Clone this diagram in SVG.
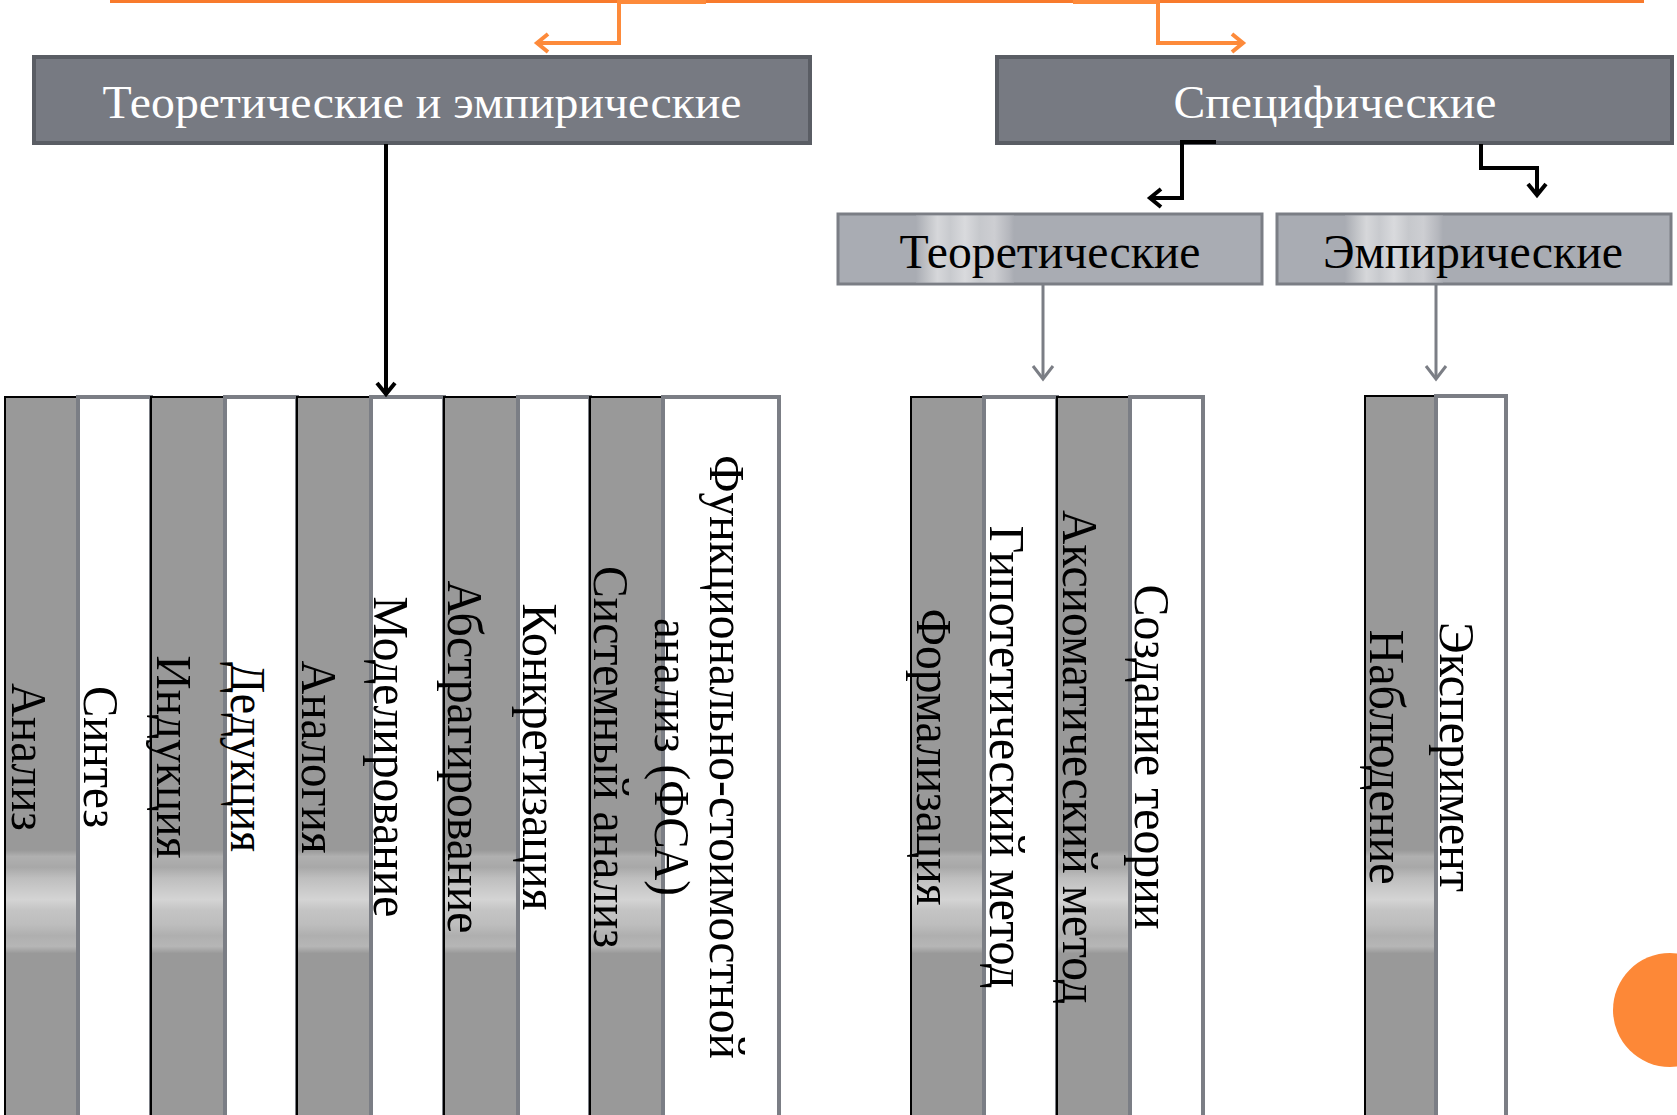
<svg xmlns="http://www.w3.org/2000/svg" width="1677" height="1115" viewBox="0 0 1677 1115">
<style>
.hdr{fill:#777A82;stroke:#5A5D64;stroke-width:4}
.hdrtxt{font-family:"Liberation Serif","Times New Roman",serif;font-size:46px;fill:#FFFFFF;text-anchor:middle}
.sub{fill:#A9ACB3;stroke:#7B7E85;stroke-width:3}
.subtxt{font-family:"Liberation Serif","Times New Roman",serif;font-size:48px;fill:#000000;text-anchor:middle}
.gcol{fill:url(#colGrad);stroke:#000000;stroke-width:2}
.wcol{fill:#FFFFFF;stroke:#7B7E85;stroke-width:4}
.ctxt{font-family:"Liberation Serif","Times New Roman",serif;font-size:50px;fill:#000000;text-anchor:middle}
.orng{fill:none;stroke:#FD8A3A;stroke-width:4}
.blk{fill:none;stroke:#000000;stroke-width:4}
.gry{fill:none;stroke:#7B7E85;stroke-width:3}
</style>
<defs>
<linearGradient id="colGrad" gradientUnits="userSpaceOnUse" x1="0" y1="397" x2="0" y2="1115">
<stop offset="0" stop-color="#999999"/>
<stop offset="0.631" stop-color="#999999"/>
<stop offset="0.64" stop-color="#b0b0b0"/>
<stop offset="0.655" stop-color="#a8a8a8"/>
<stop offset="0.67" stop-color="#bebebe"/>
<stop offset="0.69" stop-color="#cdcdcd"/>
<stop offset="0.70" stop-color="#d4d4d4"/>
<stop offset="0.715" stop-color="#c4c4c4"/>
<stop offset="0.735" stop-color="#bdbdbd"/>
<stop offset="0.75" stop-color="#afafaf"/>
<stop offset="0.765" stop-color="#b6b6b6"/>
<stop offset="0.775" stop-color="#999999"/>
<stop offset="1" stop-color="#999999"/>
</linearGradient>
<linearGradient id="sheen1" gradientUnits="userSpaceOnUse" x1="916" y1="0" x2="1014" y2="0">
<stop offset="0" stop-color="#A9ACB3"/>
<stop offset="0.12" stop-color="#c2c4c8"/>
<stop offset="0.22" stop-color="#d6d7da"/>
<stop offset="0.35" stop-color="#c8cace"/>
<stop offset="0.5" stop-color="#d9dadd"/>
<stop offset="0.65" stop-color="#c6c8cc"/>
<stop offset="0.8" stop-color="#cdced2"/>
<stop offset="0.95" stop-color="#b5b7bd"/>
<stop offset="1" stop-color="#A9ACB3"/>
</linearGradient>
<linearGradient id="sheen2" gradientUnits="userSpaceOnUse" x1="1345" y1="0" x2="1443" y2="0">
<stop offset="0" stop-color="#A9ACB3"/>
<stop offset="0.12" stop-color="#c2c4c8"/>
<stop offset="0.22" stop-color="#d6d7da"/>
<stop offset="0.35" stop-color="#c8cace"/>
<stop offset="0.5" stop-color="#d9dadd"/>
<stop offset="0.65" stop-color="#c6c8cc"/>
<stop offset="0.8" stop-color="#cdced2"/>
<stop offset="0.95" stop-color="#b5b7bd"/>
<stop offset="1" stop-color="#A9ACB3"/>
</linearGradient>
<marker id="arrO" markerUnits="userSpaceOnUse" markerWidth="20" markerHeight="24" refX="14" refY="11" orient="auto" overflow="visible">
<path d="M3,2 L14,11 L3,20" fill="none" stroke="#FD8A3A" stroke-width="4"/>
</marker>
<marker id="arrB" markerUnits="userSpaceOnUse" markerWidth="20" markerHeight="24" refX="14" refY="11" orient="auto" overflow="visible">
<path d="M3,2 L14,11 L3,20" fill="none" stroke="#000000" stroke-width="4"/>
</marker>
<marker id="arrG" markerUnits="userSpaceOnUse" markerWidth="20" markerHeight="24" refX="15" refY="11" orient="auto" overflow="visible">
<path d="M2,1 L15,11 L2,21" fill="none" stroke="#7B7E85" stroke-width="3"/>
</marker>
</defs>
<rect x="0" y="0" width="1677" height="1115" fill="#FFFFFF"/>

<g id="node-theor-emp">
<rect class="hdr" x="34" y="57" width="776" height="86"/>
<text class="hdrtxt" x="422" y="118" textLength="639" lengthAdjust="spacingAndGlyphs">Теоретические и эмпирические</text>
</g>
<g id="node-specific">
<rect class="hdr" x="997" y="57" width="675" height="86"/>
<text class="hdrtxt" x="1335" y="118" textLength="323" lengthAdjust="spacingAndGlyphs">Специфические</text>
</g>
<g id="node-theoretical">
<rect class="sub" x="838" y="214" width="424" height="70"/>
<rect x="916" y="215.5" width="98" height="67" fill="url(#sheen1)"/>
<text class="subtxt" x="1050" y="268" textLength="301" lengthAdjust="spacingAndGlyphs">Теоретические</text>
</g>
<g id="node-empirical">
<rect class="sub" x="1277" y="214" width="394" height="70"/>
<rect x="1345" y="215.5" width="98" height="67" fill="url(#sheen2)"/>
<text class="subtxt" x="1473" y="268" textLength="300" lengthAdjust="spacingAndGlyphs">Эмпирические</text>
</g>

<g id="col-analiz"><rect class="gcol" x="5" y="397" width="73" height="730"/>
<text class="ctxt" transform="translate(12,757) rotate(90)" textLength="148" lengthAdjust="spacingAndGlyphs">Анализ</text></g>
<g id="col-sintez"><rect class="wcol" x="78" y="397" width="73" height="730"/>
<text class="ctxt" transform="translate(84,757) rotate(90)" textLength="142" lengthAdjust="spacingAndGlyphs">Синтез</text></g>
<g id="col-indukciya"><rect class="gcol" x="151" y="397" width="74" height="730"/>
<text class="ctxt" transform="translate(157,757) rotate(90)" textLength="203" lengthAdjust="spacingAndGlyphs">Индукция</text></g>
<g id="col-dedukciya"><rect class="wcol" x="225" y="397" width="72" height="730"/>
<text class="ctxt" transform="translate(231,757) rotate(90)" textLength="190" lengthAdjust="spacingAndGlyphs">Дедукция</text></g>
<g id="col-analogiya"><rect class="gcol" x="297" y="397" width="74" height="730"/>
<text class="ctxt" transform="translate(302,757) rotate(90)" textLength="193" lengthAdjust="spacingAndGlyphs">Аналогия</text></g>
<g id="col-modelirovanie"><rect class="wcol" x="371" y="397" width="73" height="730"/>
<text class="ctxt" transform="translate(374,757) rotate(90)" textLength="321" lengthAdjust="spacingAndGlyphs">Моделирование</text></g>
<g id="col-abstragirovanie"><rect class="gcol" x="444" y="397" width="74" height="730"/>
<text class="ctxt" transform="translate(448,757) rotate(90)" textLength="353" lengthAdjust="spacingAndGlyphs">Абстрагирование</text></g>
<g id="col-konkretizaciya"><rect class="wcol" x="518" y="397" width="72" height="730"/>
<text class="ctxt" transform="translate(523,757) rotate(90)" textLength="307" lengthAdjust="spacingAndGlyphs">Конкретизация</text></g>
<g id="col-sistemnyi"><rect class="gcol" x="590" y="397" width="73" height="730"/>
<text class="ctxt" transform="translate(594,757) rotate(90)" textLength="382" lengthAdjust="spacingAndGlyphs">Системный анализ</text></g>
<g id="col-fsa"><rect class="wcol" x="663" y="397" width="116" height="730"/>
<text class="ctxt" transform="translate(710,757) rotate(90)" textLength="604" lengthAdjust="spacingAndGlyphs">Функционально-стоимостной</text>
<text class="ctxt" transform="translate(655,757) rotate(90)" textLength="278" lengthAdjust="spacingAndGlyphs">анализ (ФСА)</text></g>

<g id="col-formalizaciya"><rect class="gcol" x="911" y="397" width="73" height="730"/>
<text class="ctxt" transform="translate(917,757) rotate(90)" textLength="297" lengthAdjust="spacingAndGlyphs">Формализация</text></g>
<g id="col-gipoteticheskii"><rect class="wcol" x="984" y="397" width="73" height="730"/>
<text class="ctxt" transform="translate(990,757) rotate(90)" textLength="463" lengthAdjust="spacingAndGlyphs">Гипотетический метод</text></g>
<g id="col-aksiomaticheskii"><rect class="gcol" x="1057" y="397" width="73" height="730"/>
<text class="ctxt" transform="translate(1063,757) rotate(90)" textLength="494" lengthAdjust="spacingAndGlyphs">Аксиоматический метод</text></g>
<g id="col-sozdanie"><rect class="wcol" x="1130" y="397" width="73" height="730"/>
<text class="ctxt" transform="translate(1135,757) rotate(90)" textLength="345" lengthAdjust="spacingAndGlyphs">Создание теории</text></g>

<g id="col-nablyudenie"><rect class="gcol" x="1365" y="396" width="71" height="730"/>
<text class="ctxt" transform="translate(1370,757) rotate(90)" textLength="255" lengthAdjust="spacingAndGlyphs">Наблюдение</text></g>
<g id="col-eksperiment"><rect class="wcol" x="1436" y="396" width="70" height="730"/>
<text class="ctxt" transform="translate(1440,757) rotate(90)" textLength="270" lengthAdjust="spacingAndGlyphs">Эксперимент</text></g>

<g id="connectors">
<line x1="110" y1="1.5" x2="1644" y2="1.5" stroke="#F87A2C" stroke-width="3"/>
<path class="orng" d="M706,2 L619,2 L619,43 L537,43" marker-end="url(#arrO)"/>
<path class="orng" d="M1073,2 L1158,2 L1158,43 L1243,43" marker-end="url(#arrO)"/>
<path class="blk" d="M386,144 L386,394" marker-end="url(#arrB)"/>
<path class="blk" d="M1216,142 L1182,142 L1182,198 L1150,198" marker-end="url(#arrB)"/>
<path class="blk" d="M1481,144 L1481,168 L1537,168 L1537,195" marker-end="url(#arrB)"/>
<path class="gry" d="M1043,285 L1043,379" marker-end="url(#arrG)"/>
<path class="gry" d="M1436,285 L1436,379" marker-end="url(#arrG)"/>
</g>

<circle id="decor-circle" cx="1670" cy="1010" r="57" fill="#FD8837"/>
</svg>
